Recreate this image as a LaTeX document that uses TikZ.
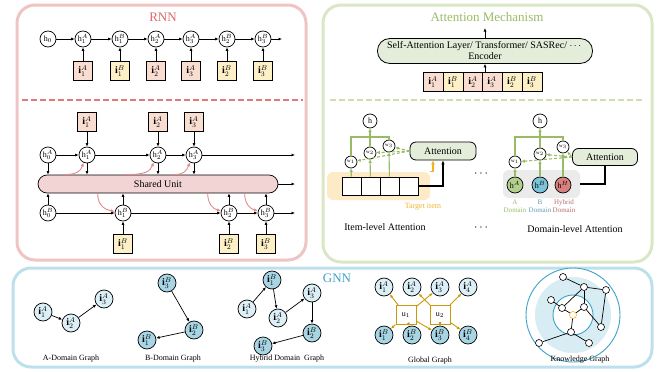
\documentclass[tikz,border=0pt]{standalone}
\usepackage{fontspec}
\setmainfont{Liberation Serif}
\usepackage{amsmath}
\usepackage{amssymb}
\usetikzlibrary{positioning,arrows.meta}

\definecolor{rnnred}{HTML}{D9686C}
\definecolor{rnnframe}{HTML}{EEC4C4}
\definecolor{rnndash}{HTML}{E07A7A}
\definecolor{attgreen}{HTML}{98BC66}
\definecolor{attframe}{HTML}{DAE7C4}
\definecolor{gnnblue}{HTML}{3FA2C8}
\definecolor{gnnframe}{HTML}{BEE0EC}
\definecolor{itema}{HTML}{F9DDD0}
\definecolor{itemb}{HTML}{FDF0C6}
\definecolor{sharedfill}{HTML}{F2D4D4}
\definecolor{curvepink}{HTML}{E08C8C}
\definecolor{encfill}{HTML}{E4EDD9}
\definecolor{targetfill}{HTML}{FDEBC8}
\definecolor{targetorange}{HTML}{F2B32A}
\definecolor{goldline}{HTML}{C99A08}
\definecolor{nodea}{HTML}{DCEFF6}
\definecolor{nodeb}{HTML}{A8D5E4}
\definecolor{domA}{HTML}{B3CF8C}
\definecolor{domB}{HTML}{7CC3D9}
\definecolor{domH}{HTML}{D9807F}
\definecolor{ringfill}{HTML}{D7ECF3}

\begin{document}
\begin{tikzpicture}[x=1pt,y=-1pt,
panel/.style={rounded corners=18pt,line width=3pt},
paneltitle/.style={font=\fontsize{13}{13}\selectfont},
hnode/.style={draw,circle,line width=0.7pt,fill=white,inner sep=0pt,minimum size=16pt,font=\fontsize{8}{8}\selectfont},
itembox/.style={draw,rectangle,line width=0.7pt,inner sep=0pt,minimum width=19pt,minimum height=19pt,font=\fontsize{10}{10}\selectfont},
itemA/.style={itembox,fill=itema},
itemB/.style={itembox,fill=itemb},
arr/.style={-{Latex[length=3.5pt,width=3pt]},line width=0.7pt},
sharedarr/.style={-{Latex[length=4pt,width=3.5pt]},line width=0.9pt,curvepink},
shared/.style={draw,rounded corners=9pt,line width=0.7pt,fill=sharedfill,minimum width=240pt,minimum height=18pt,font=\fontsize{10}{10}\selectfont},
attbox/.style={draw,rounded corners=6pt,line width=0.8pt,fill=encfill,minimum width=66pt,minimum height=18pt,font=\fontsize{10}{10}\selectfont},
wnode/.style={draw,circle,line width=0.7pt,fill=white,inner sep=0pt,minimum size=12pt,font=\fontsize{5}{5}\selectfont},
gline/.style={line width=1.1pt,attgreen},
garr/.style={gline,-{Latex[length=3.5pt,width=3.5pt]}},
gdash/.style={garr,dashed,dash pattern=on 3pt off 2pt},
cell/.style={draw,rectangle,line width=0.8pt,fill=white,minimum width=19pt,minimum height=18pt},
small/.style={font=\fontsize{8}{8.5}\selectfont},
domlabel/.style={align=center,font=\fontsize{7}{7.5}\selectfont,inner sep=1pt},
gA/.style={draw,circle,fill=nodea,line width=0.7pt,inner sep=0pt,minimum size=18pt,font=\fontsize{10}{10}\selectfont},
gB/.style={gA,fill=nodeb},
ubox/.style={draw=goldline,line width=1pt,fill=white,minimum width=20pt,minimum height=19pt,font=\fontsize{8}{8}\selectfont},
uarr/.style={-{Latex[length=3.5pt,width=3pt]},line width=0.9pt,goldline},
kg/.style={draw,circle,fill=white,line width=0.6pt,inner sep=0pt,minimum size=7pt}]

\useasboundingbox (0,0) rectangle (659,372);

% panels
\draw[panel,rnnframe] (17,5) rectangle (306,260);
\draw[panel,attframe] (323,5) rectangle (652,262);
\draw[panel,gnnframe] (13,268) rectangle (652,367);
\node[paneltitle,rnnred] (trnn) at (163,17) {RNN};
\node[paneltitle,attgreen] (tatt) at (487,17) {Attention Mechanism};
\node[paneltitle,gnnblue] (tgnn) at (337,278) {GNN};

% RNN, single chain
\node[hnode] (t0) at (48,39) {$\mathrm{h}_0$};
\foreach \n/\x/\k/\d in {1/83/1/A,2/120/1/B,3/156/2/A,4/191/3/A,5/227/2/B,6/263/3/B}{
  \node[hnode] (t\n) at (\x,39) {$\mathrm{h}_{\k}^{\d}$};
  \node[item\d] (ti\n) at (\x,71) {$\mathbf{i}_{\k}^{\d}$};
  \draw[arr] (ti\n) -- (t\n);
}
\foreach \p/\q in {0/1,1/2,2/3,3/4,4/5,5/6}
  \draw[arr] (t\p) -- (t\q);
\coordinate (tend) at (282,39);
\draw[arr] (t6) -- (tend);

\draw[rnndash,line width=1.5pt,dash pattern=on 6pt off 3pt] (22,100) -- (303,100);

% RNN, shared unit
\node[shared] (su) at (158,184) {Shared Unit};
\node[hnode] (ha0) at (48,155) {$\mathrm{h}_0^{A}$};
\foreach \n/\x in {1/87,2/158,3/194}{
  \node[hnode] (ha\n) at (\x,155) {$\mathrm{h}_{\n}^{A}$};
  \node[itemA] (ia\n) at (\x,122) {$\mathbf{i}_{\n}^{A}$};
  \draw[arr] (ia\n) -- (ha\n);
}
\node[hnode] (hb0) at (48,213) {$\mathrm{h}_0^{B}$};
\foreach \n/\x in {1/123,2/229,3/266}{
  \node[hnode] (hb\n) at (\x,213) {$\mathrm{h}_{\n}^{B}$};
  \node[itemB] (ib\n) at (\x,244) {$\mathbf{i}_{\n}^{B}$};
  \draw[arr] (ib\n) -- (hb\n);
}
\foreach \p/\q in {0/1,1/2,2/3}{
  \draw[arr] (ha\p) -- (ha\q);
  \draw[arr] (hb\p) -- (hb\q);
}
\foreach \n in {0,...,3}{
  \draw[arr] (ha\n) -- (ha\n |- su.north);
  \draw[arr] (hb\n) -- (hb\n |- su.south);
}
\coordinate (endA) at (295,155);
\coordinate (endS) at (295,184);
\coordinate (endB) at (295,213);
\draw[arr] (ha3) -- (endA);
\draw[arr] (su) -- (endS);
\draw[arr] (hb3) -- (endB);
% shared unit feeding the hidden states
\draw[sharedarr] ([xshift=25pt]su.north west) .. controls +(14,0) and +(-3,9) .. (ha1.-115);
\draw[sharedarr] ([xshift=87pt]su.north west) .. controls +(22,0) and +(-4,9) .. (ha2.-120);
\draw[sharedarr] ([xshift=135pt]su.north west) .. controls +(12,0) and +(-3,8) .. (ha3.-120);
\draw[sharedarr] ([xshift=60pt]su.south west) .. controls +(0,12) and +(-10,-2) .. (hb1.170);
\draw[sharedarr] ([xshift=170pt]su.south west) .. controls +(0,10) and +(-8,-2) .. (hb2.165);
\draw[sharedarr] ([xshift=207pt]su.south west) .. controls +(0,10) and +(-8,-2) .. (hb3.165);

% Attention, encoder
\node[draw,rounded corners=12pt,line width=0.8pt,fill=encfill,minimum width=215pt,minimum height=24pt,
  align=center,font=\fontsize{10}{11}\selectfont] (enc) at (485,51)
  {Self-Attention Layer/ Transformer/ SASRec/ $\cdots$\\Encoder};
\foreach \n/\x/\k/\d in {1/433/1/A,2/453/1/B,3/473/2/A,4/492/3/A,5/512/2/B,6/532/3/B}
  \node[item\d,minimum width=20pt] (q\n) at (\x,82) {$\mathbf{i}_{\k}^{\d}$};
\coordinate (encout) at (485,28);
\draw[arr] (enc.north) -- (encout);
\draw[arr] (enc.south |- q3.north) -- (enc.south);

\draw[attframe!80!attgreen,line width=1.5pt,dash pattern=on 6pt off 3pt] (330,100) -- (645,100);

% item-level attention
\node[draw=none,fill=targetfill,rounded corners=6pt,minimum width=103pt,minimum height=28pt] (tgt) at (378.5,186) {};
\foreach \n/\x in {1/351.5,2/370.5,3/389.5,4/408.5}
  \node[cell] (b\n) at (\x,186) {};
\node[hnode,minimum size=14pt] (h1) at (370,121) {$\mathrm{h}$};
\node[wnode] (w1) at (351,162) {$\mathrm{w}_1$};
\node[wnode] (w2) at (370,153) {$\mathrm{w}_2$};
\node[wnode] (w3) at (389,146) {$\mathrm{w}_3$};
\coordinate (barL) at (351,137);
\coordinate (barR) at (389,137);
\draw[gline] (w1) -- (barL) -- (barR) -- (w3);
\draw[garr] (w2) -- (h1);
\foreach \n in {1,2,3}
  \draw[garr] (b\n) -- (w\n);
\node[attbox] (att1) at (443,151) {Attention};
\foreach \n in {1,2,3}
  \draw[gdash] (att1.west) -- (w\n);
\draw[-{Latex[length=4pt,width=4pt]},line width=1.3pt,targetorange] (tgt.north east) -| ([xshift=-10pt]att1.south);
\draw[-{Latex[length=4pt,width=3.5pt]},line width=1.1pt] (b4.east) -| (att1.south);
\node[small,targetorange] (tgtlabel) at (423,207) {Target item};
\node[font=\fontsize{10}{10}\selectfont] (itemlevel) at (385,227) {Item-level Attention};
\node[font=\fontsize{12}{12}\selectfont] (dots1) at (482,174) {$\cdots$};
\node[font=\fontsize{12}{12}\selectfont] (dots2) at (482,228) {$\cdots$};

% domain-level attention
\node[draw=none,fill=black!8,rounded corners=6pt,minimum width=77pt,minimum height=28pt] (grey) at (541.5,184) {};
\node[hnode,fill=domA] (dA) at (515,185) {$\mathrm{h}^{A}$};
\node[hnode,fill=domB] (dB) at (540,185) {$\mathrm{h}^{B}$};
\node[hnode,fill=domH] (dH) at (563,185) {$\mathrm{h}^{H}$};
\node[hnode,minimum size=14pt] (h2) at (540,121) {$\mathrm{h}$};
\node[wnode] (v1) at (515,162) {$\mathrm{w}_1$};
\node[wnode] (v2) at (540,154) {$\mathrm{w}_2$};
\node[wnode] (v3) at (563,147) {$\mathrm{w}_3$};
\coordinate (barL2) at (515,137);
\coordinate (barR2) at (563,137);
\draw[gline] (v1) -- (barL2) -- (barR2) -- (v3);
\draw[garr] (v2) -- (h2);
\draw[garr] (dA) -- (v1);
\draw[garr] (dB) -- (v2);
\draw[garr] (dH) -- (v3);
\node[attbox,minimum width=65pt,minimum height=17pt] (att2) at (605,157) {Attention};
\foreach \n in {1,2,3}
  \draw[gdash] (att2.west) -- (v\n);
\draw[line width=1.1pt] (att2.south) |- (grey.east);
\node[domlabel,attgreen] (labA) at (515,206) {A\\Domain};
\node[domlabel,domB!80!black] (labB) at (540,206) {B\\Domain};
\node[domlabel,domH!85!black] (labH) at (564,206) {Hybrid\\Domain};
\node[font=\fontsize{10}{10}\selectfont] (domlevel) at (575,229) {Domain-level Attention};

% GNN, A-domain graph
\node[gA] (a1) at (43,312) {$\mathbf{i}_1^{A}$};
\node[gA] (a2) at (71,323) {$\mathbf{i}_2^{A}$};
\node[gA] (a3) at (104,299) {$\mathbf{i}_3^{A}$};
\draw[arr] (a1) -- (a2);
\draw[arr] (a2) -- (a3);
\node[small] (labAg) at (71,359) {A-Domain Graph};

% B-domain graph
\node[gB] (bb3) at (167,283) {$\mathbf{i}_3^{B}$};
\node[gB] (bb2) at (194,330) {$\mathbf{i}_2^{B}$};
\node[gB] (bb1) at (147,340) {$\mathbf{i}_1^{B}$};
\draw[arr] (bb3) -- (bb2);
\draw[arr] (bb2) -- (bb1);
\node[small] (labBg) at (173,359) {B-Domain Graph};

% hybrid domain graph
\node[gA] (x1) at (247,309) {$\mathbf{i}_1^{A}$};
\node[gB] (x2) at (272,280) {$\mathbf{i}_1^{B}$};
\node[gA] (x3) at (278,318) {$\mathbf{i}_2^{A}$};
\node[gA] (x4) at (312,293) {$\mathbf{i}_3^{A}$};
\node[gB] (x5) at (312,333) {$\mathbf{i}_2^{B}$};
\node[gB] (x6) at (263,346) {$\mathbf{i}_3^{B}$};
\foreach \p/\q in {1/2,2/3,3/4,4/5,5/6}
  \draw[arr] (x\p) -- (x\q);
\node[small] (labHg) at (287,359) {Hybrid Domain\ \ Graph};

% global graph
\foreach \n/\x in {1/384,2/412,3/440,4/468}{
  \node[gA] (ga\n) at (\x,287) {$\mathbf{i}_{\n}^{A}$};
  \node[gB] (gb\n) at (\x,335) {$\mathbf{i}_{\n}^{B}$};
}
\node[ubox] (u1) at (406,315) {$\mathrm{u}_1$};
\node[ubox] (u2) at (440,315) {$\mathrm{u}_2$};
\foreach \u/\i in {u1/ga1,u1/ga3,u2/ga2,u2/ga4,u1/gb1,u1/gb2,u1/gb3,u2/gb3,u2/gb4}
  \draw[uarr] (\u) -- (\i);
\node[small] (labGg) at (430,361) {Global Graph};

% knowledge graph
\draw[gnnblue,line width=0.9pt,fill=white] (573,315) circle (47pt);
\fill[ringfill] (573,315) circle (38pt);
\draw[gnnblue,line width=0.9pt,fill=white] (573,315) circle (20pt);
\node[kg,draw=targetorange] (ko) at (573,315) {};
\node[kg] (k1) at (563,277) {};
\node[kg] (k2) at (584,287) {};
\node[kg] (k3) at (606,290) {};
\node[kg] (k4) at (551,300) {};
\node[kg] (k5) at (562,308) {};
\node[kg] (k6) at (584,307) {};
\node[kg] (k7) at (601,327) {};
\node[kg] (k8) at (571,332) {};
\node[kg] (k9) at (539,343) {};
\node[kg] (k10) at (589,343) {};
\foreach \p/\q in {1/2,2/3,2/5,2/6,3/7,6/7,4/5,5/o,6/o,o/8,8/9,8/10}
  \draw[line width=0.7pt] (k\p) -- (k\q);
\node[small] (labKg) at (580,360) {Knowledge Graph};

\end{tikzpicture}
\end{document}
